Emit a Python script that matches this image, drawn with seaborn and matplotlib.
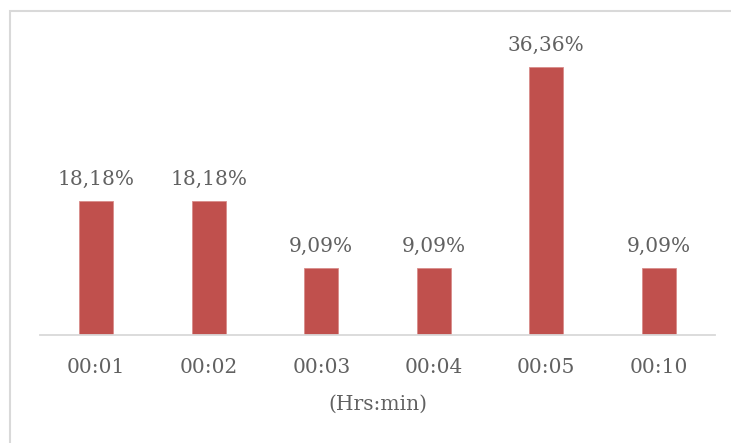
import matplotlib
matplotlib.use("Agg")
import matplotlib.pyplot as plt
from matplotlib.patches import Rectangle
import seaborn as sns
import pandas as pd

categories = ["00:01", "00:02", "00:03", "00:04", "00:05", "00:10"]
shares = [18.18, 18.18, 9.09, 9.09, 36.36, 9.09]
value_labels = ["18,18%", "18,18%", "9,09%", "9,09%", "36,36%", "9,09%"]
x_title = "(Hrs:min)"

sns.set_theme(style="white")
plt.rcParams["font.family"] = ["DejaVu Serif"]

W, H = 731, 443
fig = plt.figure(figsize=(W / 100, H / 100), dpi=100, facecolor="white")
ax = fig.add_axes([40 / W, 1 - 335 / H, 675 / W, 295 / H])

df = pd.DataFrame({"cat": categories, "share": shares})
sns.barplot(data=df, x="cat", y="share", color="#c0504d", saturation=1,
            width=0.30, ax=ax)
for p in ax.patches:
    p.set_edgecolor("#d98c8a")
    p.set_linewidth(0.6)

ax.set_ylim(0, 40)
ax.set_xlim(-0.5, len(categories) - 0.5)
ax.set_yticks([])
ax.set_ylabel("")
for s in ["top", "left", "right"]:
    ax.spines[s].set_visible(False)
ax.spines["bottom"].set_color("#d9d9d9")
ax.spines["bottom"].set_linewidth(1.3)

text_color = "#616161"
fs = 14.5
ax.tick_params(axis="x", length=0, pad=16.5, labelsize=fs, labelcolor=text_color)
ax.set_xlabel(x_title, fontsize=fs, color=text_color, labelpad=13)

for i, (v, lab) in enumerate(zip(shares, value_labels)):
    ax.annotate(lab, (i, v), xytext=(0, 8.5), textcoords="offset points",
                ha="center", va="bottom", fontsize=fs, color=text_color)

# chart frame
fig.patches.append(Rectangle((10 / W, -0.1), 1.1, 1 - 11 / H + 0.1,
                             transform=fig.transFigure, fill=False,
                             edgecolor="#d9d9d9", linewidth=1.5, zorder=0))

fig.savefig("out.png", dpi=100, facecolor="white")
